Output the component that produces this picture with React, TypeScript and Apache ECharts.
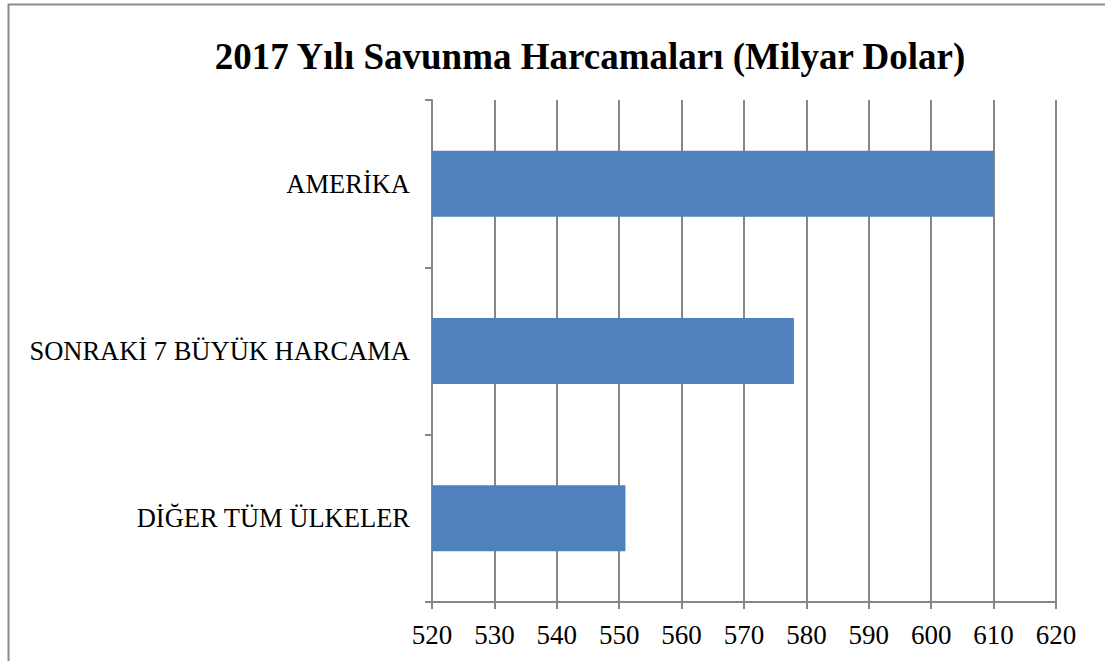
import React, { useEffect, useRef } from "react";
import * as echarts from "echarts";

const categories = ["AMERİKA", "SONRAKİ 7 BÜYÜK HARCAMA", "DİĞER TÜM ÜLKELER"];
const values = [610, 578, 551];
const titleText = "2017 Yılı Savunma Harcamaları (Milyar Dolar)";

export default function App() {
  const ref = useRef<HTMLDivElement>(null);
  useEffect(() => {
    document.body.style.margin = "0";
    const chart = echarts.init(ref.current!, null, { renderer: "svg" });
    const axisColor = "#878787";
    const font = "'Liberation Serif', 'Times New Roman', serif";
    chart.setOption({
      animation: false,
      backgroundColor: "#ffffff",
      title: {
        text: titleText,
        left: 585,
        top: 33,
        textAlign: "center",
        textStyle: { fontFamily: font, fontSize: 37, fontWeight: "bold", color: "#000" },
      },
      graphic: [
        {
          type: "rect",
          shape: { x: 8.5, y: 4.5, width: 1200, height: 800 },
          style: { fill: "none", stroke: "#8a8a8a", lineWidth: 2 },
          silent: true,
        },
      ],
      grid: { left: 432, right: 49, top: 100, bottom: 59, containLabel: false },
      xAxis: {
        type: "value",
        min: 520,
        max: 620,
        interval: 10,
        axisLine: { show: true, lineStyle: { color: axisColor, width: 2 } },
        axisTick: { show: true, length: 7, lineStyle: { color: axisColor, width: 2 } },
        splitLine: { show: true, lineStyle: { color: axisColor, width: 2 } },
        axisLabel: { fontFamily: font, fontSize: 27, color: "#000", margin: 19 },
      },
      yAxis: {
        type: "category",
        data: categories,
        inverse: true,
        axisLine: { show: true, lineStyle: { color: axisColor, width: 2 } },
        axisTick: { show: true, length: 7, lineStyle: { color: axisColor, width: 2 } },
        axisLabel: { fontFamily: font, fontSize: 26.5, color: "#000", margin: 22 },
        splitLine: { show: false },
      },
      series: [
        {
          type: "bar",
          data: values,
          barWidth: 66,
          itemStyle: { color: "#4F81BD" },
        },
      ],
    });
    return () => chart.dispose();
  }, []);
  return <div ref={ref} style={{ width: 1105, height: 661 }} />;
}
